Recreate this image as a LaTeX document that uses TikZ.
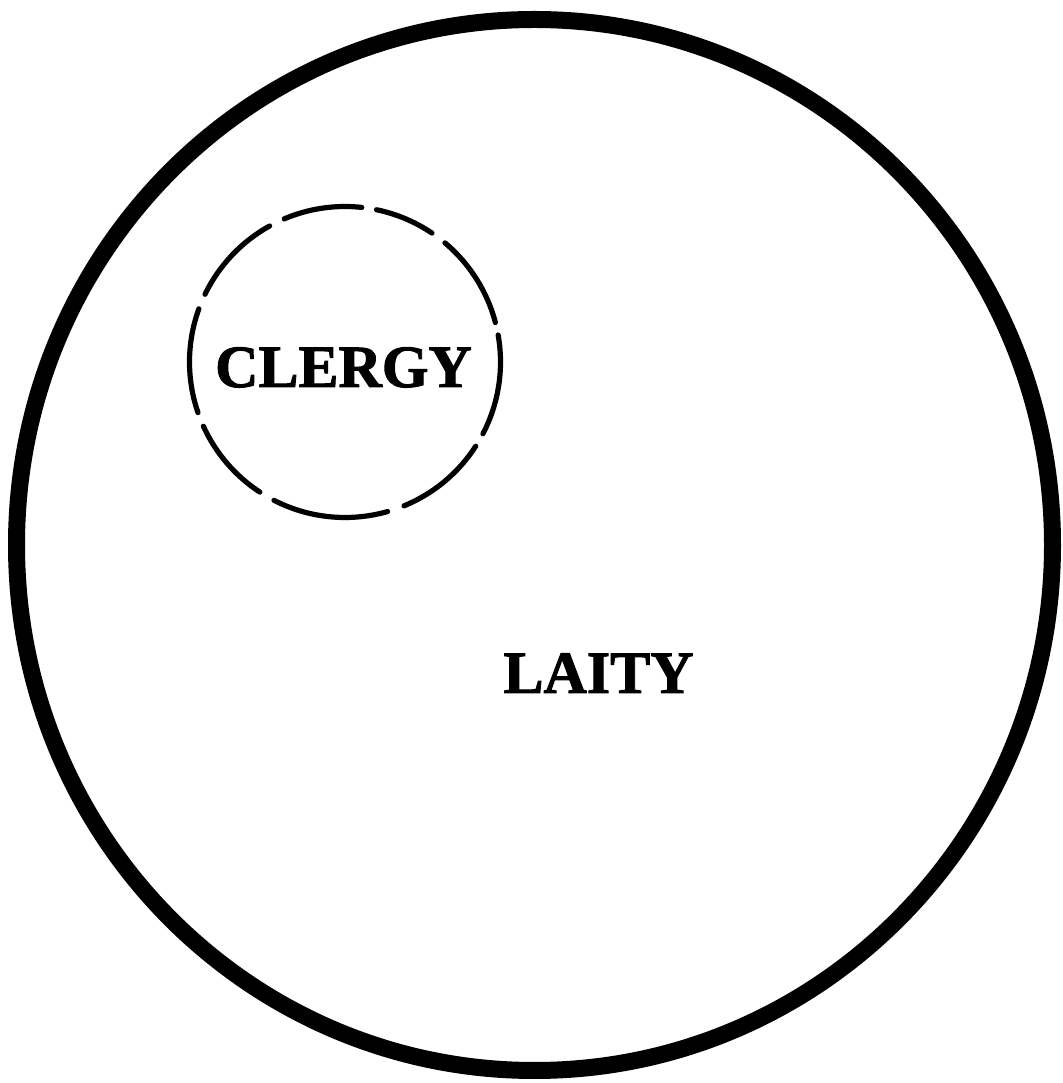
\documentclass[tikz,border=0pt]{standalone}
\usepackage{fontspec}
\setmainfont{Liberation Serif}
\newfontfamily\lblfont[BoldFeatures={FakeBold=1.6}]{Liberation Serif}
\begin{document}
\begin{tikzpicture}[x=0.5pt,y=0.5pt,
  outerring/.style={draw=black,line width=8.5pt},
  dashseg/.style={draw=black,line width=2.6pt,line cap=round},
  lbl/.style={font=\lblfont\bfseries\fontsize{30}{36}\selectfont,inner sep=0pt,anchor=base,text=black}]
\useasboundingbox[fill=white] (0,0) rectangle (1063,1083);
% outer circle (laity)
\coordinate (big) at (534.5,538);
\draw[outerring] (big) ellipse[x radius=518,y radius=525.5];
% dashed circle (clergy)
\coordinate (cl) at (345,721);
\foreach \a/\b in {-27.5/10,14.7/50,56/78.3,83.8/113,119/154.2,160/199,204.4/236.8,242.8/285.9,292.3/327.2}{
  \draw[dashseg] (cl) ++(\a:155.5) arc[start angle=\a,end angle=\b,radius=155.5];
}
\node[lbl] (clergy) at (343.5,696) {CLERGY};
\node[lbl] (laity) at (598.5,390) {LAITY};
\end{tikzpicture}
\end{document}
